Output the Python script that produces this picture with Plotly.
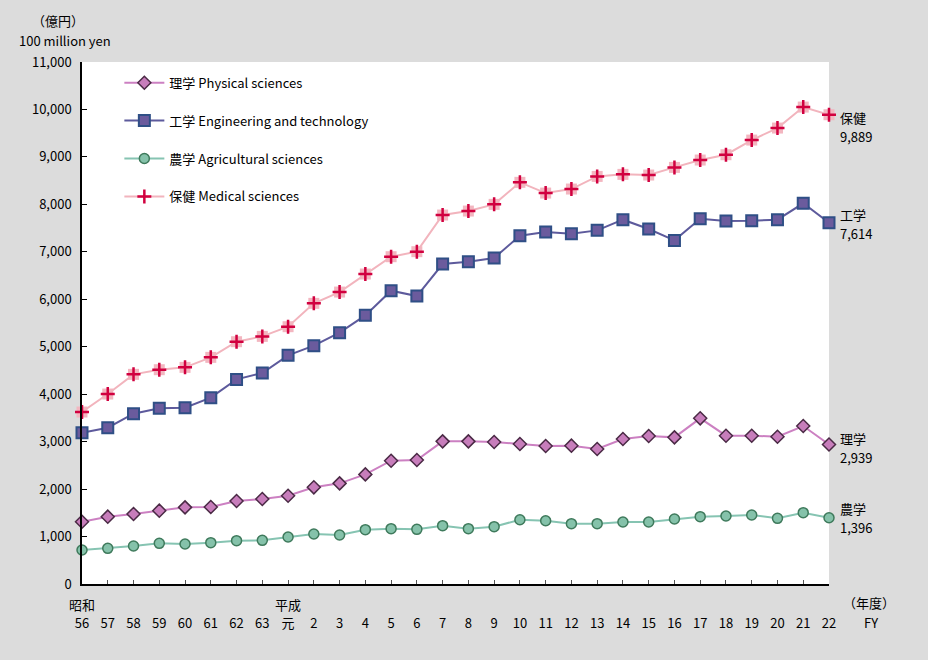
import plotly.graph_objects as go

# ---- data ----
years = ["56", "57", "58", "59", "60", "61", "62", "63", "元", "2", "3", "4", "5", "6", "7",
         "8", "9", "10", "11", "12", "13", "14", "15", "16", "17", "18", "19", "20", "21", "22"]
physical = [1313, 1419, 1475, 1545, 1615, 1622, 1749, 1791, 1861, 2037, 2121, 2310, 2598, 2613, 3006,
            3006, 2992, 2950, 2908, 2915, 2844, 3055, 3118, 3090, 3491, 3125, 3125, 3104, 3329, 2939]
engineering = [3188, 3294, 3589, 3701, 3715, 3926, 4312, 4446, 4818, 5022, 5296, 5661, 6181, 6068, 6742,
               6792, 6869, 7339, 7417, 7381, 7452, 7677, 7480, 7241, 7698, 7649, 7656, 7677, 8022, 7614]
agricultural = [716, 751, 801, 857, 843, 871, 913, 920, 990, 1054, 1032, 1145, 1166, 1152, 1229,
                1166, 1208, 1355, 1334, 1271, 1271, 1306, 1306, 1370, 1419, 1433, 1454, 1384, 1503, 1396]
medical = [3624, 4003, 4418, 4516, 4565, 4776, 5106, 5218, 5422, 5914, 6152, 6532, 6897, 7003, 7775,
           7859, 8000, 8464, 8238, 8323, 8589, 8632, 8618, 8779, 8934, 9046, 9355, 9608, 10050, 9889]
names = ["理学 Physical sciences", "工学 Engineering and technology",
         "農学 Agricultural sciences", "保健 Medical sciences"]
short_names = ["理学", "工学", "農学", "保健"]
label_offsets = [-6, -8, -9, 3]  # pixel offset of end-label name relative to last point

FONT = "Noto Sans CJK JP, Noto Sans, sans-serif"
xs = list(range(len(years)))

fig = go.Figure()

# Medical backdrop squares (pink halo behind the plus markers)
fig.add_trace(go.Scatter(
    x=xs, y=medical, mode="markers", showlegend=False, legendgroup="med",
    marker=dict(symbol="square", size=11, color="#f3b6c0", line=dict(width=0)),
    cliponaxis=False, hoverinfo="skip"))

fig.add_trace(go.Scatter(
    x=xs, y=physical, mode="lines+markers", name=names[0], legendgroup="phy",
    line=dict(color="#cc80c2", width=2),
    marker=dict(symbol="diamond", size=10, color="#c77dbb", line=dict(color="#4a2a45", width=1.5)),
    cliponaxis=False))
fig.add_trace(go.Scatter(
    x=xs, y=engineering, mode="lines+markers", name=names[1], legendgroup="eng",
    line=dict(color="#5d5a9c", width=2),
    marker=dict(symbol="square", size=11, color="#6b5b9d", line=dict(color="#2f4f86", width=2)),
    cliponaxis=False))
fig.add_trace(go.Scatter(
    x=xs, y=agricultural, mode="lines+markers", name=names[2], legendgroup="agr",
    line=dict(color="#86c4b2", width=2),
    marker=dict(symbol="circle", size=10, color="#85c2aa", line=dict(color="#3f7a5c", width=1.5)),
    cliponaxis=False))
fig.add_trace(go.Scatter(
    x=xs, y=medical, mode="lines+markers", name=names[3], legendgroup="med",
    line=dict(color="#f2b4bd", width=2),
    marker=dict(symbol="cross-thin", size=10, color="#d1003f", line=dict(color="#d1003f", width=2.5)),
    cliponaxis=False))

# end-of-line labels
last = len(years) - 1
for nm, series, off in zip(short_names, [physical, engineering, agricultural, medical], label_offsets):
    fig.add_annotation(x=last, y=series[-1], xref="x", yref="y", text=nm, showarrow=False,
                       xanchor="left", yanchor="middle", xshift=9, yshift=-off,
                       font=dict(family=FONT, size=13, color="#000"))
    fig.add_annotation(x=last, y=series[-1], xref="x", yref="y", text=f"{series[-1]:,}",
                       showarrow=False, xanchor="left", yanchor="middle", xshift=9, yshift=-off - 19,
                       font=dict(family=FONT, size=13, color="#000"))

# era labels
fig.add_annotation(x=0, y=0, xref="x", yref="paper", text="昭和", showarrow=False,
                   yanchor="middle", yshift=-20, font=dict(family=FONT, size=13, color="#000"))
fig.add_annotation(x=8, y=0, xref="x", yref="paper", text="平成", showarrow=False,
                   yanchor="middle", yshift=-20, font=dict(family=FONT, size=13, color="#000"))
# units
fig.add_annotation(x=0, y=1, xref="paper", yref="paper", text="（億円）", showarrow=False,
                   xanchor="center", yanchor="middle", xshift=-24, yshift=42,
                   font=dict(family=FONT, size=13, color="#000"))
fig.add_annotation(x=0, y=1, xref="paper", yref="paper", text="100 million yen", showarrow=False,
                   xanchor="center", yanchor="middle", xshift=-17, yshift=22,
                   font=dict(family=FONT, size=13, color="#000"))
fig.add_annotation(x=1, y=0, xref="paper", yref="paper", text="（年度）", showarrow=False,
                   xanchor="center", yanchor="middle", xshift=40, yshift=-18,
                   font=dict(family=FONT, size=13, color="#000"))
fig.add_annotation(x=1, y=0, xref="paper", yref="paper", text="FY", showarrow=False,
                   xanchor="center", yanchor="middle", xshift=42, yshift=-38,
                   font=dict(family=FONT, size=13, color="#000"))

fig.update_layout(
    width=928, height=660,
    margin=dict(l=82, r=99, t=62, b=76),
    paper_bgcolor="#dcdcdc", plot_bgcolor="#ffffff",
    font=dict(family=FONT, size=13, color="#000"),
    showlegend=True,
    legend=dict(x=0.05, y=0.989, xanchor="left", yanchor="top",
                bgcolor="rgba(0,0,0,0)", font=dict(family=FONT, size=13, color="#000"),
                traceorder="grouped", tracegroupgap=18, itemwidth=40),
    xaxis=dict(range=[0, last], tickmode="array", tickvals=xs, ticktext=years,
               showgrid=False, zeroline=False, showline=True, linecolor="#000", linewidth=1.5,
               ticks="inside", ticklen=4, tickcolor="#555", ticklabelstandoff=27,
               tickfont=dict(family=FONT, size=13, color="#000")),
    yaxis=dict(range=[0, 11000], dtick=1000, tickformat=",", showgrid=False, zeroline=False,
               showline=True, linecolor="#000", linewidth=1.5,
               ticks="inside", ticklen=5, tickcolor="#000", ticklabelstandoff=6,
               tickfont=dict(family=FONT, size=13, color="#000")),
)

fig.write_html("out.html", config={"displayModeBar": False},
               post_script="document.body.style.margin='0px';")
